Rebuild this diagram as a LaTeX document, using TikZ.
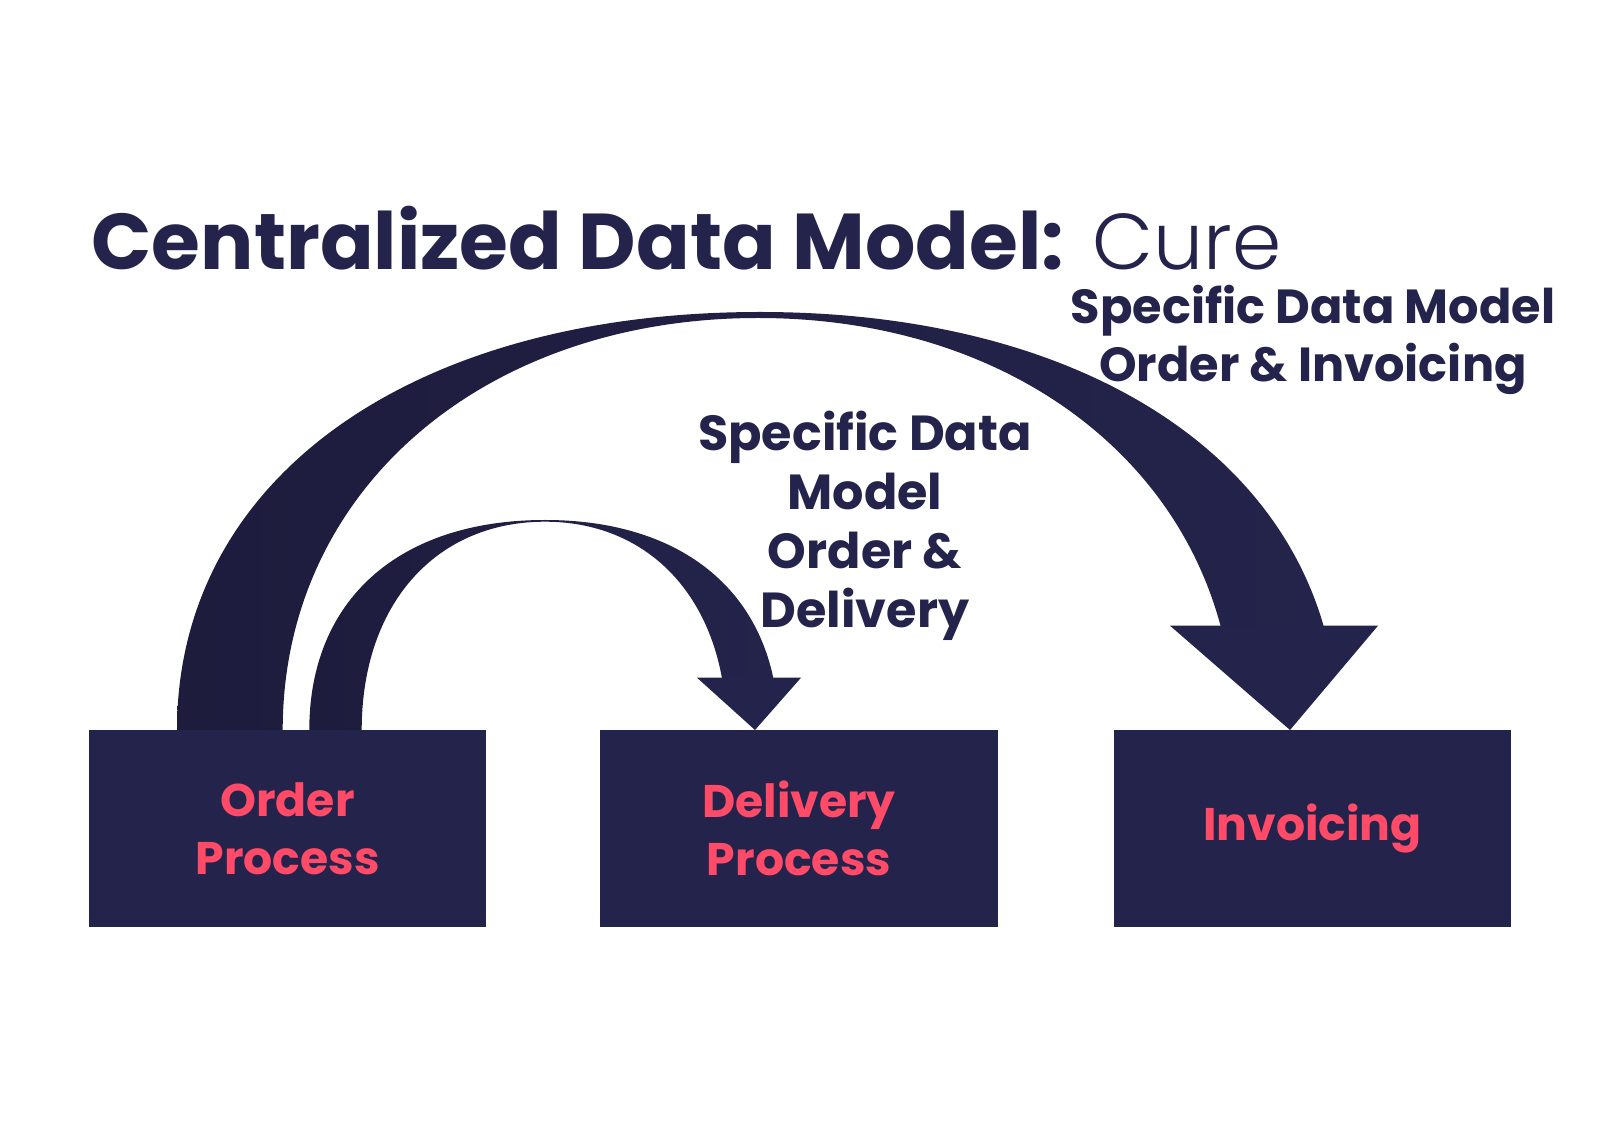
\documentclass[tikz,border=0pt]{standalone}
\usepackage{fontspec}
\setmainfont{Poppins}
\newfontfamily\lightfont{Poppins Light}
\usetikzlibrary{positioning}
\definecolor{Ink}{HTML}{24234B}
\definecolor{InkDark}{HTML}{1D1C3D}
\definecolor{Rose}{HTML}{FF4A68}

\begin{document}
\begin{tikzpicture}[x=0.01cm,y=-0.01cm,
  procbox/.style={fill=Ink,text=Rose,minimum width=3.97cm,minimum height=1.97cm,
    inner sep=0pt,align=center,font=\fontsize{13}{16.6}\selectfont\bfseries},
  note/.style={text=Ink,align=center,inner sep=0pt,font=\fontsize{14}{16.8}\selectfont\bfseries},
  arcarrow/.style={left color=InkDark,right color=Ink}]
  \useasboundingbox[fill=white] (0,0) rectangle (1600,1131);
  % big arc: order -> invoicing
  \begin{scope}
    \clip (0,0) -- (1600,0) -- (1600,629) -- (760,629) -- (760,731) -- (0,731) -- cycle;
    \path[arcarrow] (177,730) .. controls (177,479.2) and (410.2,312) .. (760,312)
      .. controls (1106.8,312) and (1338,479.2) .. (1338,730) -- (1234,730)
      .. controls (1234,491) and (1034.1,318) .. (758,318)
      .. controls (482.3,318) and (282.7,491) .. (282.7,730) -- cycle;
  \end{scope}
  \fill[Ink] (1170,625.7) -- (1378,625.7) -- (1290,730) -- cycle;
  % small arc: order -> delivery
  \begin{scope}
    \clip (0,0) -- (1600,0) -- (1600,681) -- (545,681) -- (545,731) -- (0,731) -- cycle;
    \path[arcarrow] (309.3,730) .. controls (309.3,599.8) and (398.9,520) .. (545,520)
      .. controls (689.8,520) and (778.5,599.8) .. (778.5,730) -- (726.5,730)
      .. controls (726.5,605) and (653.9,521.7) .. (545,521.7)
      .. controls (435,521.7) and (361.7,605) .. (361.7,730) -- cycle;
  \end{scope}
  \fill[Ink] (697,677.7) -- (801,677.7) -- (755,730) -- cycle;
  \foreach \name/\x/\txt in {order/287.5/{Order\\Process},delivery/799/{Delivery\\Process},invoicing/1312.5/Invoicing}
    \node[procbox] (\name) at (\x,828.5) {\txt};
  \node[anchor=base west,inner sep=0pt,text=Ink,font=\fontsize{22.5}{27}\selectfont] (title) at (91,270)
    {\textbf{Centralized Data Model:} {\lightfont Cure}};
  \node[note,anchor=north] (sdmdelivery) at (865,410) {Specific Data\\Model\\Order \&\\Delivery};
  \node[note,anchor=north,font=\fontsize{13.6}{16.5}\selectfont\bfseries] (sdminvoicing) at (1313,284)
    {Specific Data Model\\Order \& Invoicing};
\end{tikzpicture}
\end{document}
